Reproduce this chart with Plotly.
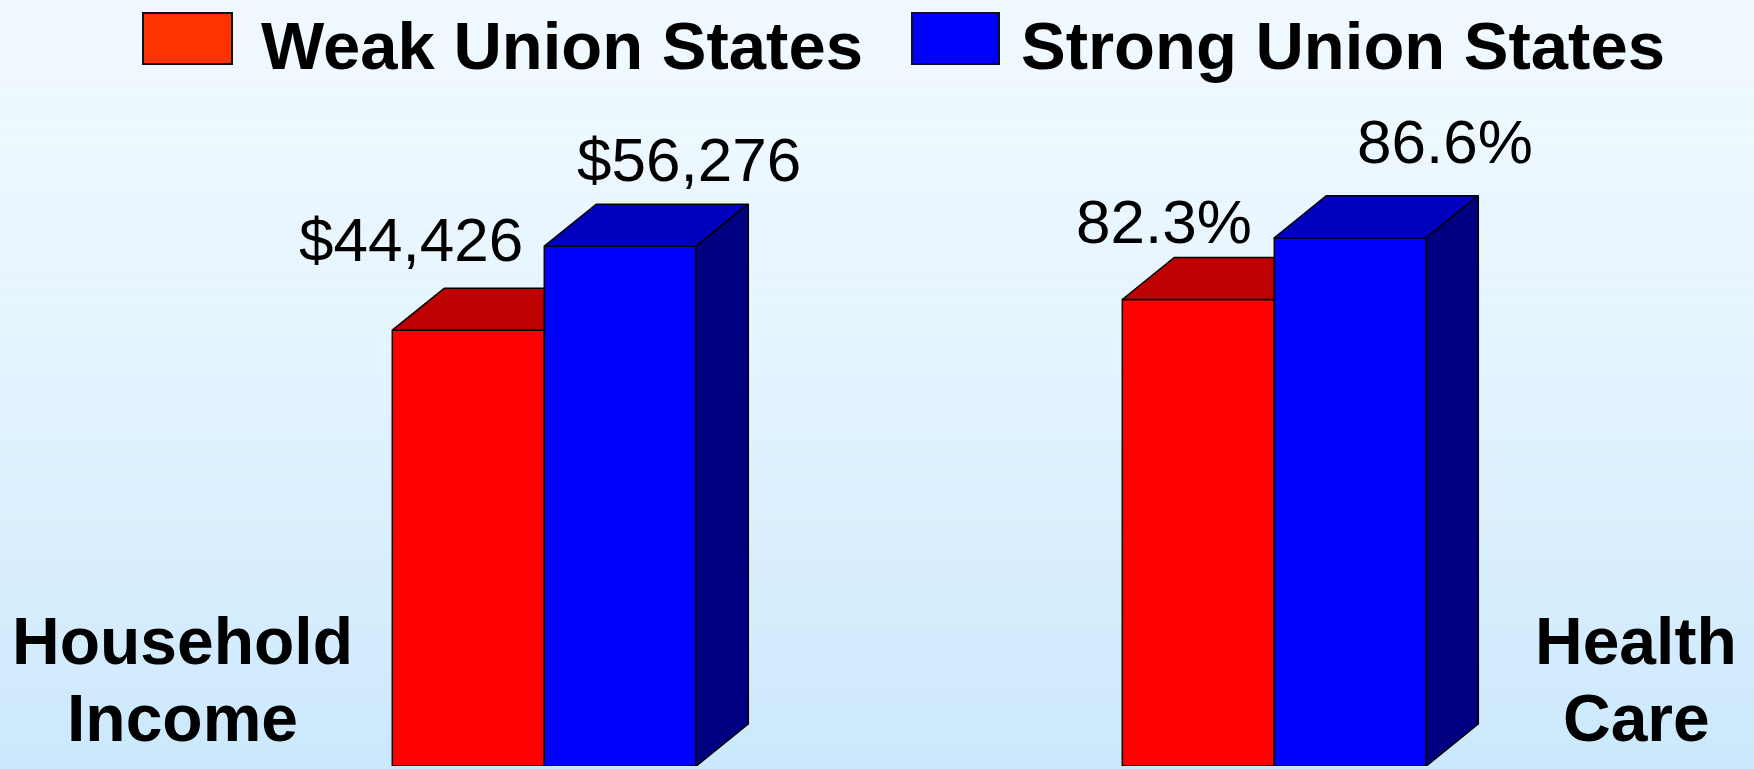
import plotly.graph_objects as go

# ---------------- data ----------------
category_lines = [["Household", "Income"], ["Health", "Care"]]
series_names = ["Weak Union States", "Strong Union States"]
weak_values = [44426, 82.3]
strong_values = [56276, 86.6]
label_formats = ["${:,.0f}", "{:.1f}%"]

# ---------------- layout constants ----------------
W, H = 1754, 769
MB = 3
PH = H - MB                      # plot height in px
PX_PER_UNIT = 730.0              # x px per category unit
CENTER0 = 544.3                  # px of first category centre
x_range = [-CENTER0 / PX_PER_UNIT, (W - CENTER0) / PX_PER_UNIT]
y_ranges = [[-17053, 91008], [49.79, 103.17]]
yaxis_ids = ["y", "y2"]
BAR_W = 152 / PX_PER_UNIT
DEPTH_X_PX, DEPTH_Y_PX = 52, 42

front_colors = ["#FF0000", "#0000FF"]
top_colors = ["#BD0000", "#0000BD"]
side_colors = ["#800000", "#000080"]
legend_colors = ["#FF3300", "#0000FF"]
edge = dict(color="#000000", width=1.5)

# label placement offsets (px) relative to bar value / category centre
label_dx = [[-133, 145], [-110, 171]]
label_dy = [[91, 87], [78, 96]]

fig = go.Figure()

series_values = [weak_values, strong_values]
for i in range(len(category_lines)):
    lo, hi = y_ranges[i]
    ya = yaxis_ids[i]
    dxd = DEPTH_X_PX / PX_PER_UNIT
    dyd = DEPTH_Y_PX * (hi - lo) / PH
    for s in range(2):
        v = series_values[s][i]
        # front face
        fig.add_trace(go.Bar(
            x=[i], y=[v - lo], base=[lo], offset=(-BAR_W if s == 0 else 0), width=BAR_W,
            marker=dict(color=front_colors[s], line=edge), yaxis=ya, name=series_names[s],
            showlegend=False, hoverinfo="skip"))
    for s in range(2):
        v = series_values[s][i]
        xl = i - BAR_W if s == 0 else i
        xr = xl + BAR_W
        if s == 0:
            # top face clipped where the taller strong bar covers it
            xs = [xl, xl + dxd, i, i, xl]
            ys = [v, v + dyd, v + dyd, v, v]
        else:
            xs = [xl, xl + dxd, xr + dxd, xr, xl]
            ys = [v, v + dyd, v + dyd, v, v]
        fig.add_trace(go.Scatter(x=xs, y=ys, fill="toself", fillcolor=top_colors[s],
                                 line=edge, mode="lines", yaxis=ya, showlegend=False,
                                 hoverinfo="skip"))
        if s == 1:
            xs = [xr, xr + dxd, xr + dxd, xr, xr]
            ys = [v, v + dyd, lo + dyd, lo, v]
            fig.add_trace(go.Scatter(x=xs, y=ys, fill="toself", fillcolor=side_colors[s],
                                     line=edge, mode="lines", yaxis=ya, showlegend=False,
                                     hoverinfo="skip"))
        # value label
        fig.add_annotation(x=i, y=v, xref="x", yref=ya, text=label_formats[i].format(v),
                           showarrow=False, xanchor="center", yanchor="middle",
                           xshift=label_dx[i][s], yshift=label_dy[i][s],
                           font=dict(family="Liberation Sans", size=62, color="#000000"))

# category labels
cat_x_px = [182, 1636]
line_y_px = [641, 718]
for i, lines in enumerate(category_lines):
    for j, t in enumerate(lines):
        fig.add_annotation(x=cat_x_px[i] / W, y=1 - line_y_px[j] / PH, xref="paper", yref="paper",
                           text="<b>%s</b>" % t, showarrow=False, xanchor="center",
                           yanchor="middle",
                           font=dict(family="Liberation Sans", size=66, color="#000000"))

# legend (manual)
legend_box_px = [(143, 232), (912, 999)]
legend_text_px = [259, 1019]
for s in range(2):
    x0, x1 = legend_box_px[s]
    fig.add_shape(type="rect", xref="paper", yref="paper", x0=x0 / W, x1=x1 / W,
                  y0=1 - 64 / PH, y1=1 - 13 / PH, fillcolor=legend_colors[s],
                  line=dict(color="#111111", width=2), layer="above")
    fig.add_annotation(x=legend_text_px[s] / W, y=1 - 46 / PH, xref="paper", yref="paper",
                       text="<b>%s</b>" % series_names[s], showarrow=False, xanchor="left",
                       yanchor="middle",
                       font=dict(family="Liberation Sans", size=67, color="#000000"))

# gradient background
top_rgb = (0xF0, 0xF9, 0xFF)
bot_rgb = (0xCB, 0xE8, 0xFC)
N = 80
for k in range(N):
    t = (k + 0.5) / N
    tt = t ** 1.5
    c = tuple(int(round(a + (b - a) * tt)) for a, b in zip(top_rgb, bot_rgb))
    fig.add_shape(type="rect", xref="paper", yref="paper", x0=-0.01, x1=1.01,
                  y0=1 - (k + 1) / N * (H / PH), y1=1 - k / N * (H / PH) + (0.01 if k == 0 else 0),
                  fillcolor="rgb(%d,%d,%d)" % c, line=dict(width=0), layer="below")

fig.update_layout(
    width=W, height=H,
    margin=dict(l=0, r=0, t=0, b=MB),
    paper_bgcolor="#CBE8FC", plot_bgcolor="rgba(0,0,0,0)",
    barmode="overlay", showlegend=False,
    xaxis=dict(range=x_range, visible=False, fixedrange=True),
    yaxis=dict(range=y_ranges[0], visible=False, fixedrange=True),
    yaxis2=dict(range=y_ranges[1], visible=False, fixedrange=True, overlaying="y"),
)

fig.write_html("out.html", config={"displayModeBar": False},
               post_script="document.body.style.margin='0';document.body.style.overflow='hidden';")
